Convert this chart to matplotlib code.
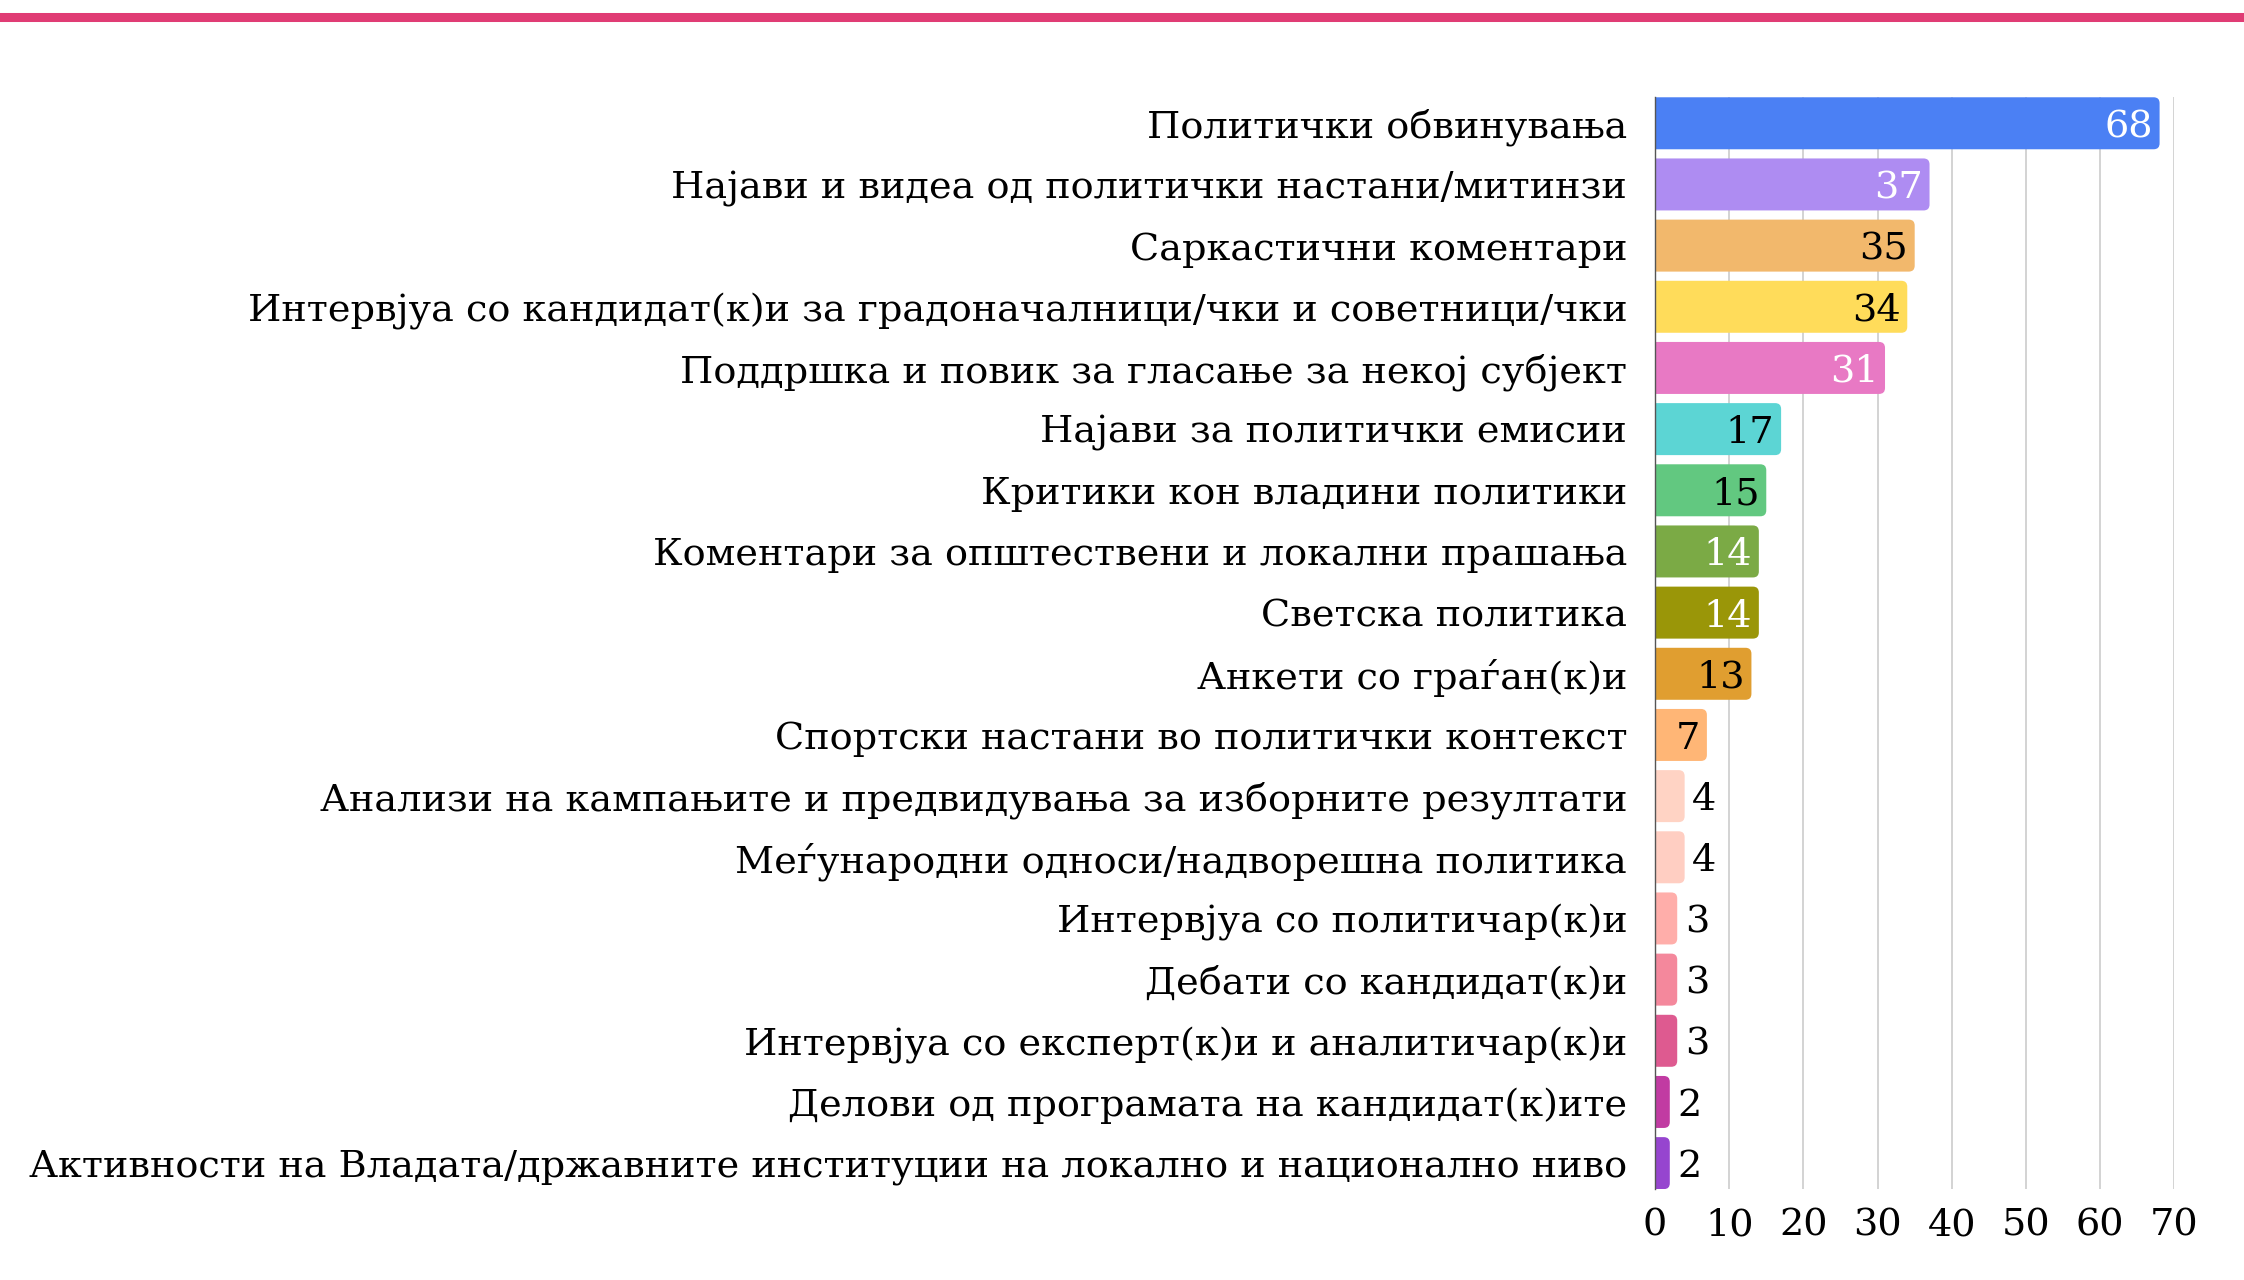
import matplotlib
matplotlib.use("Agg")
import matplotlib.pyplot as plt
from matplotlib.patches import FancyBboxPatch
from matplotlib.lines import Line2D

categories = [
    "Политички обвинувања",
    "Најави и видеа од политички настани/митинзи",
    "Саркастични коментари",
    "Интервјуа со кандидат(к)и за градоначалници/чки и советници/чки",
    "Поддршка и повик за гласање за некој субјект",
    "Најави за политички емисии",
    "Критики кон владини политики",
    "Коментари за општествени и локални прашања",
    "Светска политика",
    "Анкети со граѓан(к)и",
    "Спортски настани во политички контекст",
    "Анализи на кампањите и предвидувања за изборните резултати",
    "Меѓународни односи/надворешна политика",
    "Интервјуа со политичар(к)и",
    "Дебати со кандидат(к)и",
    "Интервјуа со експерт(к)и и аналитичар(к)и",
    "Делови од програмата на кандидат(к)ите",
    "Активности на Владата/државните институции на локално и национално ниво",
]
values = [68, 37, 35, 34, 31, 17, 15, 14, 14, 13, 7, 4, 4, 3, 3, 3, 2, 2]
colors = ["#4B80F4", "#AE8CF2", "#F2B86C", "#FFDC5A", "#E879C4", "#5CD5D4",
          "#62C880", "#7BAA45", "#9A9608", "#E09E30", "#FFB676", "#FFD3C4",
          "#FFCEC2", "#FFAEAA", "#F4889C", "#DE5A90", "#C13BA2", "#9645CF"]
label_colors = ["white", "white", "black", "black", "white", "black", "black",
                "white", "white", "black", "black", "black", "black", "black",
                "black", "black", "black", "black"]
xticks = [0, 10, 20, 30, 40, 50, 60, 70]

plt.rcParams['font.family'] = ['DejaVu Serif']
fs = 27.5

fig = plt.figure(figsize=(22.44, 12.8), dpi=100)
ax = fig.add_axes([0.7375, 0.071, 0.2315, 0.853])

ypos = list(range(len(values)))
h = 0.85
bars = ax.barh(ypos, values, height=h, color=colors)
ax.set_xlim(0, 70)
ax.set_ylim(len(values) - 1 + h / 2, -h / 2)

# rounded right ends: redraw each bar, starting a bit left of 0 so the left side is clipped
aspect = (1 / 61.2) / (1 / 7.43)
for rect, c in zip(bars, colors):
    rect.set_visible(False)
    x0, y0, w, hh = rect.get_x(), rect.get_y(), rect.get_width(), rect.get_height()
    p = FancyBboxPatch((x0 - 1, y0), w + 1, hh,
                       boxstyle="round,pad=0,rounding_size=0.8",
                       mutation_aspect=aspect, facecolor=c, edgecolor='none',
                       zorder=2, clip_on=True)
    ax.add_patch(p)

for y, v, lc in zip(ypos, values, label_colors):
    if v >= 7:
        ax.text(v - 0.9, y, str(v), ha='right', va='center_baseline',
                color=lc, fontsize=fs, zorder=3)
    else:
        ax.text(v + 1.0, y, str(v), ha='left', va='center_baseline',
                color=lc, fontsize=fs, zorder=3)

ax.set_yticks(ypos)
ax.set_yticklabels(categories, fontsize=fs)
ax.set_xticks(xticks)
ax.set_xticklabels([str(t) for t in xticks], fontsize=fs)
ax.tick_params(axis='y', length=0, pad=20)
ax.tick_params(axis='x', length=0, pad=13)

ax.grid(axis='x', color='#CCCCCC', linewidth=1.2, zorder=0)
ax.set_axisbelow(True)
for s in ['top', 'right', 'bottom']:
    ax.spines[s].set_visible(False)
ax.spines['left'].set_color('#555555')
ax.spines['left'].set_linewidth(1.0)
ax.spines['left'].set_zorder(4)

fig.add_artist(Line2D([0, 1], [1 - 16.5 / 1280, 1 - 16.5 / 1280], transform=fig.transFigure,
                      color='#E03C74', linewidth=6.5))

fig.savefig("out.png", dpi=100)
